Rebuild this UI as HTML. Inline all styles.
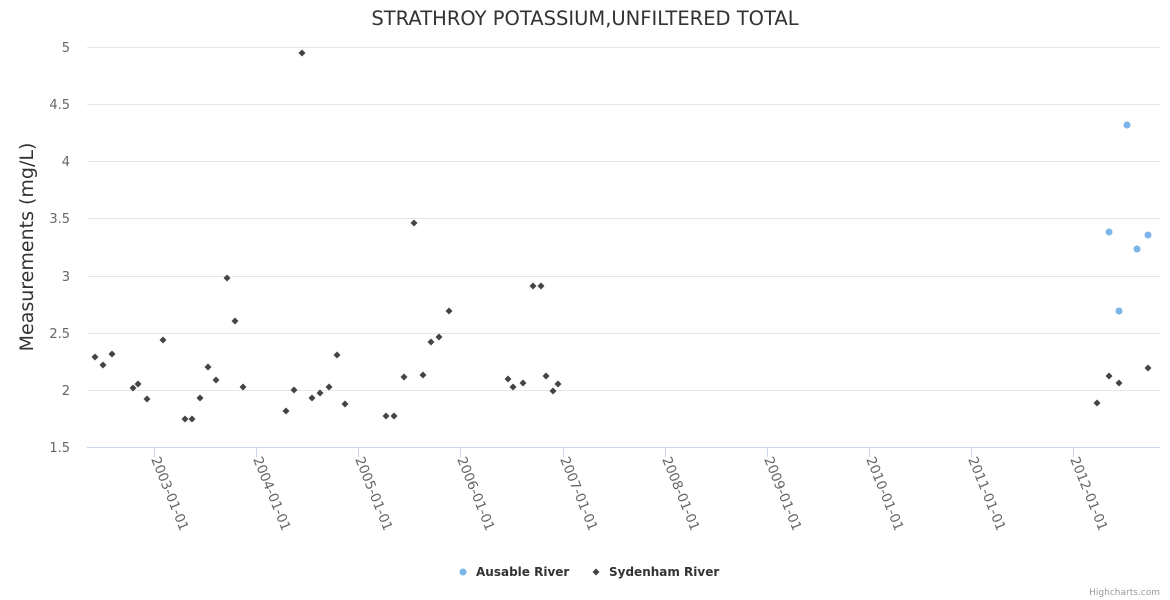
<!DOCTYPE html>
<html><head><meta charset="utf-8"><style>body{margin:0;background:#fff}svg{display:block;font-family:"DejaVu Sans","Liberation Sans",sans-serif}</style></head>
<body>
<svg width="1170" height="600" xmlns="http://www.w3.org/2000/svg">
<text x="585" y="25" text-anchor="middle" font-size="19.5" fill="#333">STRATHROY POTASSIUM,UNFILTERED TOTAL</text>
<g stroke="#e6e6e6" stroke-width="1">
<line x1="87" x2="1160" y1="47.5" y2="47.5"/><line x1="87" x2="1160" y1="104.5" y2="104.5"/>
<line x1="87" x2="1160" y1="161.5" y2="161.5"/><line x1="87" x2="1160" y1="218.5" y2="218.5"/>
<line x1="87" x2="1160" y1="276.5" y2="276.5"/><line x1="87" x2="1160" y1="333.5" y2="333.5"/>
<line x1="87" x2="1160" y1="390.5" y2="390.5"/>
</g>
<line x1="87" x2="1160" y1="447.5" y2="447.5" stroke="#ccd6eb"/>
<g stroke="#ccd6eb"><line x1="154.5" x2="154.5" y1="447" y2="457"/><line x1="256.5" x2="256.5" y1="447" y2="457"/><line x1="358.5" x2="358.5" y1="447" y2="457"/><line x1="460.5" x2="460.5" y1="447" y2="457"/><line x1="563.5" x2="563.5" y1="447" y2="457"/><line x1="665.5" x2="665.5" y1="447" y2="457"/><line x1="767.5" x2="767.5" y1="447" y2="457"/><line x1="869.5" x2="869.5" y1="447" y2="457"/><line x1="971.5" x2="971.5" y1="447" y2="457"/><line x1="1073.5" x2="1073.5" y1="447" y2="457"/></g>
<g font-size="13" fill="#666" text-anchor="end">
<text x="70" y="52">5</text><text x="70" y="109">4.5</text><text x="70" y="166">4</text><text x="70" y="223">3.5</text><text x="70" y="281">3</text><text x="70" y="338">2.5</text><text x="70" y="395">2</text><text x="70" y="452">1.5</text>
</g>
<text transform="translate(33,247) rotate(-90)" text-anchor="middle" font-size="19" fill="#333">Measurements (mg/L)</text>
<g font-size="13.5" fill="#666">
<text transform="translate(151,459) rotate(68)">2003-01-01</text>
<text transform="translate(253,459) rotate(68)">2004-01-01</text>
<text transform="translate(355,459) rotate(68)">2005-01-01</text>
<text transform="translate(457,459) rotate(68)">2006-01-01</text>
<text transform="translate(560,459) rotate(68)">2007-01-01</text>
<text transform="translate(662,459) rotate(68)">2008-01-01</text>
<text transform="translate(764,459) rotate(68)">2009-01-01</text>
<text transform="translate(866,459) rotate(68)">2010-01-01</text>
<text transform="translate(968,459) rotate(68)">2011-01-01</text>
<text transform="translate(1070,459) rotate(68)">2012-01-01</text>
</g>
<g fill="#434348">
<path d="M95 353.5l3.5 3.5-3.5 3.5-3.5-3.5z"/>
<path d="M103 361.5l3.5 3.5-3.5 3.5-3.5-3.5z"/>
<path d="M112 350.5l3.5 3.5-3.5 3.5-3.5-3.5z"/>
<path d="M133 384.5l3.5 3.5-3.5 3.5-3.5-3.5z"/>
<path d="M138 380.5l3.5 3.5-3.5 3.5-3.5-3.5z"/>
<path d="M147 395.5l3.5 3.5-3.5 3.5-3.5-3.5z"/>
<path d="M163 336.5l3.5 3.5-3.5 3.5-3.5-3.5z"/>
<path d="M185 415.5l3.5 3.5-3.5 3.5-3.5-3.5z"/>
<path d="M192 415.5l3.5 3.5-3.5 3.5-3.5-3.5z"/>
<path d="M200 394.5l3.5 3.5-3.5 3.5-3.5-3.5z"/>
<path d="M208 363.5l3.5 3.5-3.5 3.5-3.5-3.5z"/>
<path d="M216 376.5l3.5 3.5-3.5 3.5-3.5-3.5z"/>
<path d="M227 274.5l3.5 3.5-3.5 3.5-3.5-3.5z"/>
<path d="M235 317.5l3.5 3.5-3.5 3.5-3.5-3.5z"/>
<path d="M243 383.5l3.5 3.5-3.5 3.5-3.5-3.5z"/>
<path d="M286 407.5l3.5 3.5-3.5 3.5-3.5-3.5z"/>
<path d="M294 386.5l3.5 3.5-3.5 3.5-3.5-3.5z"/>
<path d="M302 49.5l3.5 3.5-3.5 3.5-3.5-3.5z"/>
<path d="M312 394.5l3.5 3.5-3.5 3.5-3.5-3.5z"/>
<path d="M320 389.5l3.5 3.5-3.5 3.5-3.5-3.5z"/>
<path d="M329 383.5l3.5 3.5-3.5 3.5-3.5-3.5z"/>
<path d="M337 351.5l3.5 3.5-3.5 3.5-3.5-3.5z"/>
<path d="M345 400.5l3.5 3.5-3.5 3.5-3.5-3.5z"/>
<path d="M386 412.5l3.5 3.5-3.5 3.5-3.5-3.5z"/>
<path d="M394 412.5l3.5 3.5-3.5 3.5-3.5-3.5z"/>
<path d="M404 373.5l3.5 3.5-3.5 3.5-3.5-3.5z"/>
<path d="M414 219.5l3.5 3.5-3.5 3.5-3.5-3.5z"/>
<path d="M423 371.5l3.5 3.5-3.5 3.5-3.5-3.5z"/>
<path d="M431 338.5l3.5 3.5-3.5 3.5-3.5-3.5z"/>
<path d="M439 333.5l3.5 3.5-3.5 3.5-3.5-3.5z"/>
<path d="M449 307.5l3.5 3.5-3.5 3.5-3.5-3.5z"/>
<path d="M508 375.5l3.5 3.5-3.5 3.5-3.5-3.5z"/>
<path d="M513 383.5l3.5 3.5-3.5 3.5-3.5-3.5z"/>
<path d="M523 379.5l3.5 3.5-3.5 3.5-3.5-3.5z"/>
<path d="M533 282.5l3.5 3.5-3.5 3.5-3.5-3.5z"/>
<path d="M541 282.5l3.5 3.5-3.5 3.5-3.5-3.5z"/>
<path d="M546 372.5l3.5 3.5-3.5 3.5-3.5-3.5z"/>
<path d="M553 387.5l3.5 3.5-3.5 3.5-3.5-3.5z"/>
<path d="M558 380.5l3.5 3.5-3.5 3.5-3.5-3.5z"/>
<path d="M1097 399.5l3.5 3.5-3.5 3.5-3.5-3.5z"/>
<path d="M1109 372.5l3.5 3.5-3.5 3.5-3.5-3.5z"/>
<path d="M1119 379.5l3.5 3.5-3.5 3.5-3.5-3.5z"/>
<path d="M1148 364.5l3.5 3.5-3.5 3.5-3.5-3.5z"/>
</g>
<g fill="#7cb5ec">
<circle cx="1109" cy="232" r="3.5"/>
<circle cx="1119" cy="311" r="3.5"/>
<circle cx="1127" cy="125" r="3.5"/>
<circle cx="1137" cy="249" r="3.5"/>
<circle cx="1148" cy="235" r="3.5"/>
</g>
<circle cx="463" cy="572" r="3.5" fill="#7cb5ec"/>
<text x="476" y="576" font-size="12" font-weight="bold" fill="#333">Ausable River</text>
<path d="M596 568.5L599.5 572L596 575.5L592.5 572Z" fill="#434348"/>
<text x="609" y="576" font-size="12" font-weight="bold" fill="#333">Sydenham River</text>
<text x="1160" y="595" text-anchor="end" font-size="9" fill="#999">Highcharts.com</text>
</svg>
</body></html>
